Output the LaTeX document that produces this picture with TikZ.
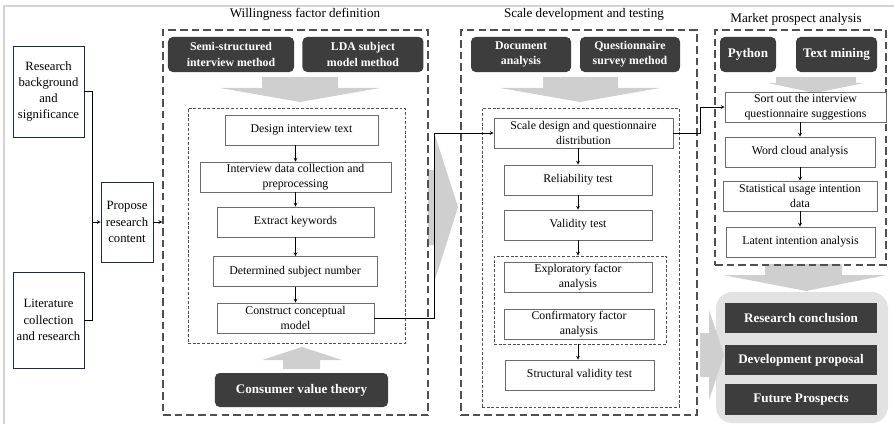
\documentclass[tikz,border=0pt]{standalone}
\usepackage{fontspec}
\setmainfont{Liberation Serif}
\usepackage{xcolor}
\usetikzlibrary{arrows, positioning}

\definecolor{boxdark}{HTML}{3D3D3D}
\definecolor{framegray}{HTML}{505050}
\definecolor{edgegray}{HTML}{6B6B6B}
\definecolor{bigarrow}{HTML}{CFCFCF}
\definecolor{navy}{HTML}{1F2A4A}
\definecolor{panelgray}{HTML}{E2E2E2}
\definecolor{rulegray}{HTML}{D4D4D4}

\newcommand{\diagfont}{\fontsize{10.1}{13}\selectfont}
\newcommand{\boldfont}{\fontsize{11.2}{13}\selectfont\bfseries}
\newcommand{\sidefont}{\fontsize{10.8}{13.8}\selectfont}
\newcommand{\titlefont}{\fontsize{11.2}{13}\selectfont}

\tikzstyle{stepbox} = [rectangle, draw=edgegray, line width=0.6pt, fill=white, minimum height=0.9cm, inner sep=1pt, align=center]
\tikzstyle{method} = [rectangle, rounded corners=4pt, fill=boxdark, text=white, font=\diagfont\bfseries, minimum height=1.05cm, inner sep=1pt, align=center]
\tikzstyle{outcome} = [rectangle, fill=boxdark, text=white, font=\boldfont, minimum width=4.56cm, minimum height=0.92cm, inner sep=1pt]
\tikzstyle{source} = [rectangle, draw=navy, line width=0.6pt, fill=white, font=\sidefont, inner sep=1pt, align=center]
\tikzstyle{stage} = [rectangle, draw=framegray, line width=1pt, dash pattern=on 6.5pt off 3.5pt, inner sep=0pt]
\tikzstyle{group} = [rectangle, draw=framegray, line width=0.8pt, dash pattern=on 2.5pt off 1.5pt, inner sep=0pt]
\tikzstyle{title} = [font=\titlefont]
\tikzstyle{arrow} = [line width=0.5pt, ->, >=stealth]

\begin{document}
\begin{tikzpicture}[x=0.03cm, y=-0.03cm, every node/.style={font=\diagfont}]
    \useasboundingbox (0,0) rectangle (894,424);
    \draw [rulegray, line width=1.2pt] (4,424) -- (4,6) -- (894,6);

    % Wide grey arrows
    \fill [bigarrow] (262,77) -- (338,77) -- (338,88) -- (380,88) -- (300,102) -- (220,88) -- (262,88) -- cycle;
    \fill [bigarrow] (283,369) -- (283,360) -- (262,360) -- (302,347) -- (342,360) -- (320,360) -- (320,369) -- cycle;
    \fill [bigarrow] (543,77) -- (618,77) -- (618,88) -- (660,88) -- (580,102) -- (500,88) -- (543,88) -- cycle;
    \fill [bigarrow] (776,77) -- (856,77) -- (856,83) -- (864,83) -- (815,93) -- (768,83) -- (776,83) -- cycle;
    \fill [bigarrow] (765,264) -- (842,264) -- (842,275) -- (887,275) -- (806,291) -- (723,275) -- (765,275) -- cycle;
    \fill [bigarrow] (428,170) -- (434,170) -- (434,132) -- (458,207) -- (434,283) -- (434,245) -- (428,245) -- cycle;

    % Outcome panel
    \fill [panelgray, rounded corners=14pt] (716,292) rectangle (888,423);
    \fill [bigarrow] (700,333) -- (709,333) -- (709,310) -- (724,355) -- (709,400) -- (709,377) -- (700,377) -- cycle;

    % Stage frames
    \node (s1) [stage, minimum width=7.95cm, minimum height=11.55cm] at (295.5,222.5) {};
    \node (s1in) [group, minimum width=6.51cm, minimum height=7.05cm] at (296.5,225.5) {};
    \node (s2) [stage, minimum width=7.08cm, minimum height=11.55cm] at (579,222.5) {};
    \node (s2in) [group, minimum width=5.91cm, minimum height=8.97cm] at (580.5,257.5) {};
    \node (factor) [group, minimum width=5.16cm, minimum height=2.64cm] at (580,300) {};
    \node (s3) [stage, minimum width=5.13cm, minimum height=7.05cm] at (800.5,147.5) {};

    % Stage titles
    \node (t1) [title] at (305,14) {Willingness factor definition};
    \node (t2) [title] at (584,14) {Scale development and testing};
    \node (t3) [title] at (796,19) {Market prospect analysis};

    % Starting points
    \node (bg) [source, minimum width=2.13cm, minimum height=2.73cm] at (48.5,91.5) {Research\\background\\and\\significance};
    \node (lit) [source, minimum width=2.13cm, minimum height=2.88cm] at (48.5,320) {Literature\\collection\\and research};
    \node (propose) [source, minimum width=1.56cm, minimum height=2.4cm] at (127,222) {Propose\\research\\content};
    \coordinate (join) at (92,222);

    % Willingness factor definition
    \node (semi) [method, minimum width=3.78cm] at (231,54.5) {Semi-structured\\interview method};
    \node (lda) [method, minimum width=3.63cm, right=0.24cm of semi] {LDA subject\\model method};
    \node (design) [stepbox, minimum width=4.59cm] at (301.5,130) {Design interview text};
    \node (collect) [stepbox, minimum width=5.73cm] at (295.5,177) {Interview data collection and\\preprocessing};
    \node (keywords) [stepbox, minimum width=4.71cm] at (295.5,222) {Extract keywords};
    \node (subject) [stepbox, minimum width=4.92cm] at (295,271.5) {Determined subject number};
    \node (construct) [stepbox, minimum width=4.71cm] at (295.5,318) {Construct conceptual\\model};
    \node (theory) [method, font=\boldfont, minimum width=5.19cm, minimum height=1.02cm] at (301.5,390) {Consumer value theory};

    % Scale development and testing
    \node (docs) [method, minimum width=3cm] at (521,54.5) {Document\\analysis};
    \node (survey) [method, minimum width=3cm] at (630,54.5) {Questionnaire\\survey method};
    \node (scale) [stepbox, minimum width=5.37cm] at (583.5,133) {Scale design and questionnaire\\distribution};
    \node (reliab) [stepbox, minimum width=4.44cm] at (578,180) {Reliability test};
    \node (valid) [stepbox, minimum width=4.44cm] at (578,225) {Validity test};
    \node (explor) [stepbox, minimum width=4.44cm] at (578,277) {Exploratory factor\\analysis};
    \node (confirm) [stepbox, minimum width=4.5cm] at (579,324) {Confirmatory factor\\analysis};
    \node (struct) [stepbox, minimum width=4.47cm] at (579.5,375) {Structural validity test};

    % Market prospect analysis
    \node (python) [method, font=\boldfont, minimum width=1.68cm] at (748,54.5) {Python};
    \node (mining) [method, font=\boldfont, minimum width=2.43cm] at (836.5,54.5) {Text mining};
    \node (sortout) [stepbox, minimum width=4.83cm] at (805.5,107) {Sort out the interview\\questionnaire suggestions};
    \node (cloud) [stepbox, minimum width=4.5cm] at (800,152) {Word cloud analysis};
    \node (stat) [stepbox, minimum width=4.62cm] at (800,196) {Statistical usage intention\\data};
    \node (latent) [stepbox, minimum width=4.47cm] at (800.5,242) {Latent intention analysis};

    % Outcomes
    \node (concl) [outcome] at (801,318) {Research conclusion};
    \node (devel) [outcome, below=0.33cm of concl] {Development proposal};
    \node (future) [outcome, below=0.24cm of devel] {Future Prospects};

    % Connectors
    \draw [line width=0.5pt] (bg.east) -- (bg.east -| join) |- (lit.east);
    \draw [arrow] (join) -- (propose.west);
    \draw [arrow] (propose.east) -- (propose.east -| s1.west);
    \draw [arrow] (design.south -| collect.north) -- (collect.north);
    \draw [arrow] (collect) -- (keywords);
    \draw [arrow] (keywords) -- (keywords.south |- subject.north);
    \draw [arrow] (subject.south -| construct.north) -- (construct.north);
    \draw [arrow] (construct.east) -- ++(60,0) |- (scale.west);
    \draw [arrow] (scale.south -| reliab.north) -- (reliab.north);
    \draw [arrow] (reliab) -- (valid);
    \draw [arrow] (valid.south) -- (valid.south |- factor.north);
    \draw [arrow] (valid.south |- factor.south) -- (valid.south |- struct.north);
    \draw [arrow] (scale.east) -- ++(27,0) |- (sortout.west);
    \draw [arrow] (sortout.south -| cloud.north) -- (cloud.north);
    \draw [arrow] (cloud) -- (stat);
    \draw [arrow] (stat) -- (stat.south |- latent.north);
\end{tikzpicture}
\end{document}
